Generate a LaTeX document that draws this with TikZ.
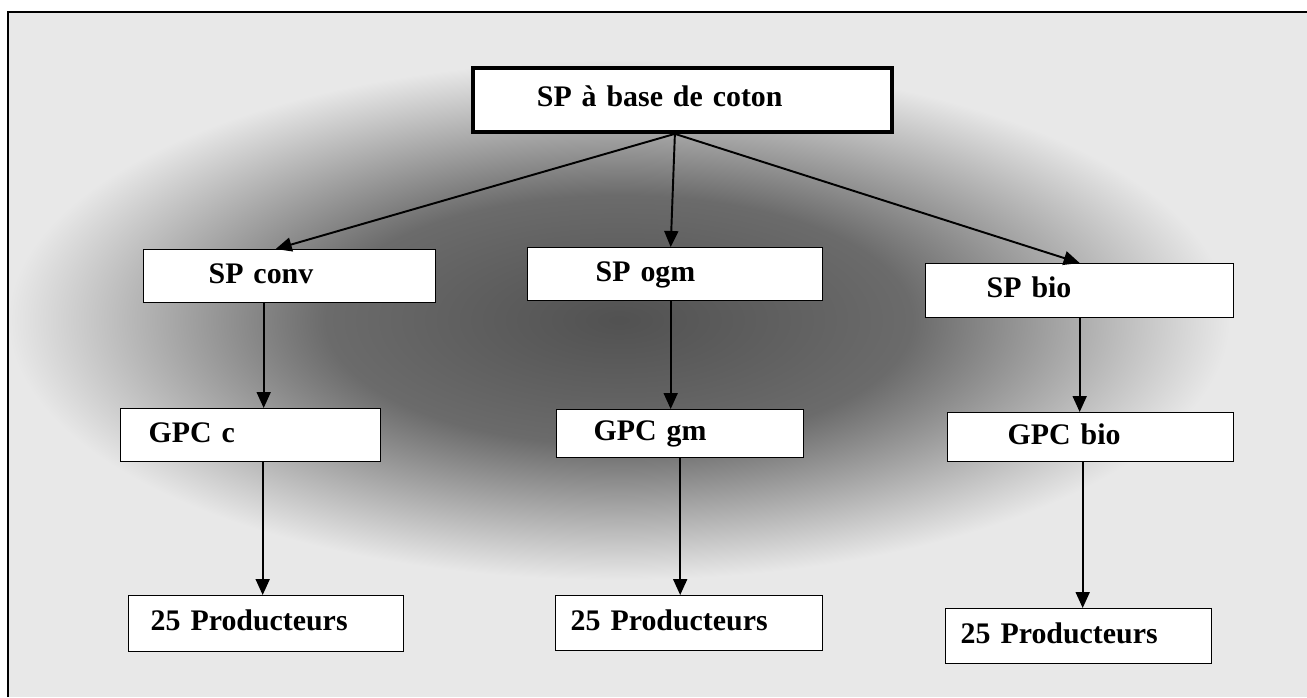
\documentclass[tikz,border=0pt]{standalone}
\usepackage{fontspec}
\setmainfont[WordSpace=0.75]{Liberation Serif}
\usepackage{tikz}
\usetikzlibrary{arrows.meta}
\pgfdeclareradialshading{bgfade}{\pgfpoint{0bp}{0bp}}{color(0bp)=(black!68); color(12bp)=(black!58); color(25bp)=(black!9); color(50bp)=(black!9)}

\begin{document}
\begin{tikzpicture}[x=0.02cm, y=-0.02cm, every node/.style={rectangle, draw, fill=white, align=left, anchor=north west, inner ysep=0pt, line width=0.8pt, text height=12pt, text depth=4pt, font=\fontsize{17}{20}\selectfont\bfseries}, arr/.style={-{Triangle[length=0.32cm,width=0.28cm]}, line width=1.1pt}]
        \useasboundingbox (0,0) rectangle (1307,697);
        \fill[black!9] (8,12) rectangle (1307,697);
        \shade[shading=bgfade] (8,60) rectangle (1230,580);
        \draw[line width=1.2pt] (8,697) -- (8,12) -- (1307,12);
        
        \node (top) [line width=2.2pt, text width=5.82cm, inner xsep=1.28cm, minimum height=1.28cm] at (471,66) {SP à base de coton};
        
        \node (spconv) [text width=3.24cm, inner xsep=1.3cm, minimum height=1.06cm] at (143,249) {SP conv};
        \node (spogm) [text width=3.18cm, inner xsep=1.36cm, minimum height=1.06cm] at (527,247) {SP ogm};
        \node (spbio) [text width=3.72cm, inner xsep=1.22cm, minimum height=1.08cm] at (925,263) {SP bio};
        
        \node (gpcc) [text width=4.08cm, inner xsep=0.56cm, minimum height=1.06cm] at (120,408) {GPC c};
        \node (gpcgm) [text width=3.46cm, inner xsep=0.74cm, minimum height=0.96cm] at (556,409) {GPC gm};
        \node (gpcbio) [text width=3.32cm, inner xsep=1.2cm, minimum height=0.98cm] at (947,412) {GPC bio};
        
        \node (prodl) [text width=4.62cm, inner xsep=0.44cm, minimum height=1.12cm] at (128,595) {25 Producteurs};
        \node (prodm) [text width=4.74cm, inner xsep=0.3cm, minimum height=1.1cm] at (555,595) {25 Producteurs};
        \node (prodr) [text width=4.72cm, inner xsep=0.3cm, minimum height=1.1cm] at (945,608) {25 Producteurs};
        
        \draw[arr] ([xshift=-0.15cm]top.south) -- ([xshift=-0.28cm]spconv.north);
        \draw[arr] ([xshift=-0.15cm]top.south) -- ([xshift=-0.09cm]spogm.north);
        \draw[arr] ([xshift=-0.15cm]top.south) -- (spbio.north);
        
        \draw[arr] ([xshift=-0.52cm]spconv.south) -- ([xshift=-0.52cm]spconv.south |- gpcc.north);
        \draw[arr] ([xshift=-0.09cm]spogm.south) -- ([xshift=-0.09cm]spogm.south |- gpcgm.north);
        \draw[arr] (spbio.south) -- (spbio.south |- gpcbio.north);
        
        \draw[arr] ([xshift=0.24cm]gpcc.south) -- ([xshift=0.24cm]gpcc.south |- prodl.north);
        \draw[arr] (gpcgm.south) -- (gpcgm.south |- prodm.north);
        \draw[arr] ([xshift=-0.16cm]gpcbio.south) -- ([xshift=-0.16cm]gpcbio.south |- prodr.north);
    \end{tikzpicture}
\end{document}
